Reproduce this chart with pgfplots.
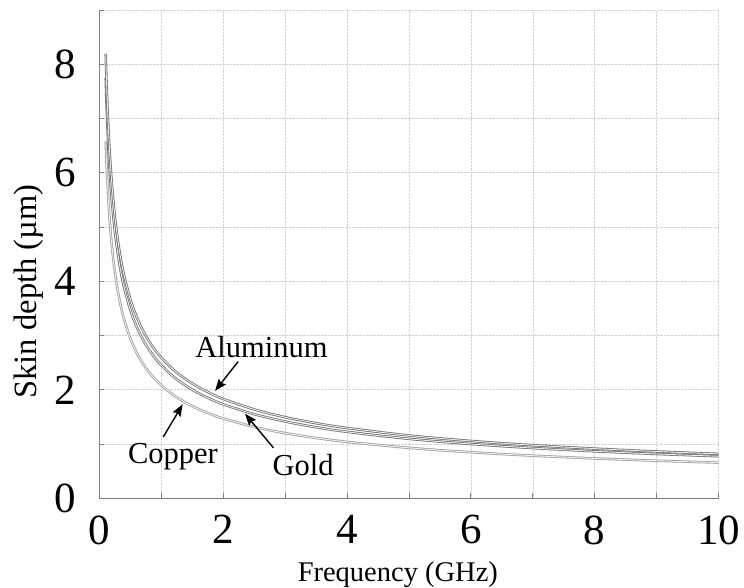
\documentclass[border=0pt]{standalone}
\usepackage{fontspec}
\setmainfont{Liberation Serif}
\usepackage{pgfplots}
\pgfplotsset{compat=1.18}
\usetikzlibrary{arrows.meta}
\definecolor{darkcurve}{HTML}{727272}
\definecolor{lightcurve}{HTML}{A0A0A0}
\pgfplotstableread{
f cu au al
0.10 6.578 7.748 8.190
0.11 6.272 7.387 7.809
0.12 6.005 7.073 7.477
0.13 5.769 6.795 7.183
0.15 5.371 6.326 6.687
0.17 5.045 5.942 6.282
0.20 4.651 5.478 5.791
0.25 4.160 4.900 5.180
0.30 3.797 4.473 4.729
0.35 3.516 4.141 4.378
0.40 3.289 3.874 4.095
0.50 2.942 3.465 3.663
0.60 2.685 3.163 3.344
0.70 2.486 2.928 3.096
0.80 2.325 2.739 2.896
0.90 2.193 2.583 2.730
1.00 2.080 2.450 2.590
1.20 1.899 2.237 2.364
1.40 1.758 2.071 2.189
1.60 1.644 1.937 2.048
1.80 1.550 1.826 1.931
2.00 1.471 1.732 1.831
2.50 1.316 1.550 1.638
3.00 1.201 1.415 1.495
3.50 1.112 1.310 1.384
4.00 1.040 1.225 1.295
5.00 0.930 1.096 1.158
6.00 0.849 1.000 1.057
7.00 0.786 0.926 0.979
8.00 0.735 0.866 0.916
9.00 0.693 0.817 0.863
10.00 0.658 0.775 0.819
}\skindata
\begin{document}
\begin{tikzpicture}
\begin{axis}[
  scale only axis, width=619pt, height=488.3pt,
  xmin=0, xmax=10, ymin=0, ymax=9,
  xtick={0,2,...,10}, minor xtick={1,3,...,9},
  ytick={0,2,...,8}, minor ytick={1,3,5,7,9},
  grid=both,
  major grid style={densely dotted, gray!35, line width=0.6pt},
  minor grid style={densely dotted, gray!35, line width=0.6pt},
  axis x line*=bottom, axis y line*=left,
  axis line style={-, gray, line width=1.2pt},
  tick align=inside, major tick length=5pt, minor tick length=5pt,
  tick style={gray, line width=0.9pt},
  tick label style={font=\fontsize{43}{43}\selectfont},
  /pgf/number format/assume math mode=true,
  xticklabel style={anchor=north, inner sep=0pt, yshift=-17pt},
  yticklabel style={anchor=east, inner sep=0pt, xshift=-23pt},
  xlabel={Frequency (GHz)}, ylabel={Skin depth (µm)},
  label style={inner sep=0pt},
  xlabel style={font=\fontsize{28.5}{28.5}\selectfont, at={(axis description cs:0.482,-0.1708)}, anchor=base},
  ylabel style={font=\fontsize{32.5}{32.5}\selectfont, at={(axis description cs:-0.1015,0.4235)}, anchor=base},
]
\addplot[lightcurve, line width=0.8pt, double=gray!12, double distance=0.9pt, smooth] table[x=f, y=cu] {\skindata};
\addplot[darkcurve, line width=0.8pt, double=gray!15, double distance=0.9pt, smooth] table[x=f, y=au] {\skindata};
\addplot[darkcurve, line width=0.8pt, double=gray!15, double distance=0.9pt, smooth] table[x=f, y=al] {\skindata};
\node[font=\fontsize{30.5}{30.5}\selectfont, anchor=base, inner sep=0pt] at (axis cs:2.617,2.603) {Aluminum};
\node[font=\fontsize{30.5}{30.5}\selectfont, anchor=base, inner sep=0pt] at (axis cs:1.187,0.643) {Copper};
\node[font=\fontsize{30.5}{30.5}\selectfont, anchor=base, inner sep=0pt] at (axis cs:3.288,0.428) {Gold};
\draw[-{Stealth[length=12pt,width=9pt,inset=2pt]}, line width=1.4pt] (axis cs:2.24,2.52) -- (axis cs:1.866,1.98);
\draw[-{Stealth[length=12pt,width=9pt,inset=2pt]}, line width=1.4pt] (axis cs:1.03,1.13) -- (axis cs:1.344,1.733);
\draw[-{Stealth[length=12pt,width=9pt,inset=2pt]}, line width=1.4pt] (axis cs:2.81,0.93) -- (axis cs:2.35,1.56);
\end{axis}
\pgfresetboundingbox
\useasboundingbox (-99.5pt,-88.7pt) rectangle (644.5pt,498.3pt);
\end{tikzpicture}
\end{document}
